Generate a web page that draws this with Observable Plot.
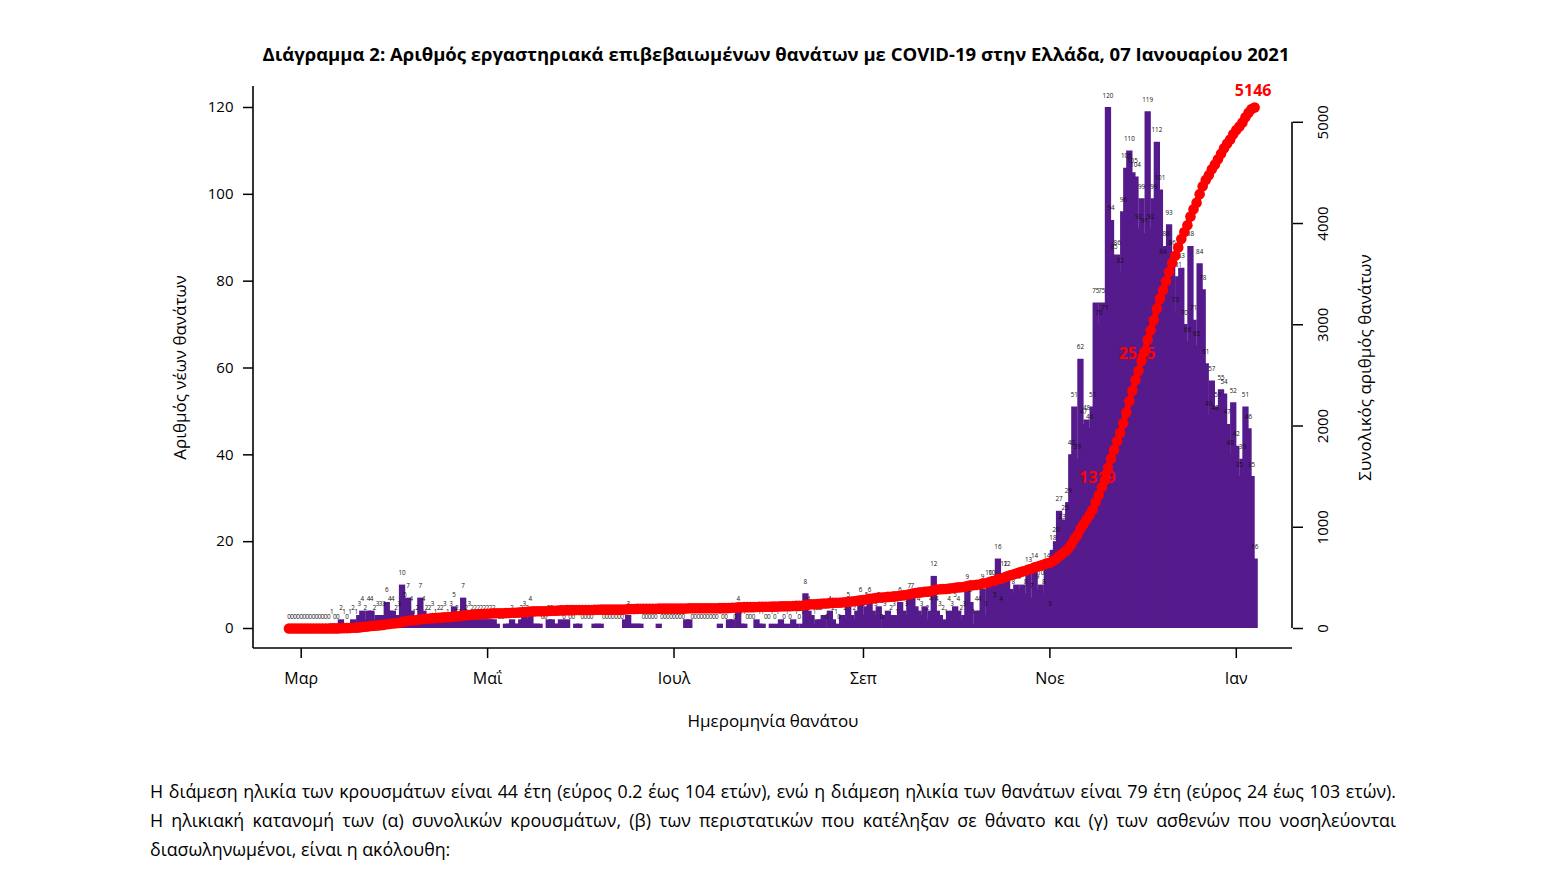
<!DOCTYPE html>
<html>
<head>
<meta charset="utf-8">
<script src="https://cdn.jsdelivr.net/npm/d3@7"></script>
<script src="https://cdn.jsdelivr.net/npm/@observablehq/plot@0.6"></script>
<style>
  html, body { margin: 0; padding: 0; background: #fff; }
  body { width: 1552px; height: 886px; position: relative; overflow: hidden; font-family: "Open Sans", sans-serif; color: #000; }
  #title { position: absolute; top: 41px; left: 0; width: 1552px; text-align: center; font-weight: 700; font-size: 18.5px; line-height: 26px; }
  #chart { position: absolute; top: 70px; left: 0; }
  .para { position: absolute; left: 150px; width: 1246px; font-size: 17.8px; line-height: 22px; white-space: nowrap; }
  .just { text-align: justify; text-align-last: justify; white-space: normal; }
</style>
</head>
<body>
<div id="title"></div>
<div id="chart"></div>
<div class="para just" id="l1" style="top:780px"></div>
<div class="para just" id="l2" style="top:809px"></div>
<div class="para" id="l3" style="top:838px"></div>
<script>
// ---------------- data ----------------
const titleText = "Διάγραμμα 2: Αριθμός εργαστηριακά επιβεβαιωμένων θανάτων με COVID-19 στην Ελλάδα, 07 Ιανουαρίου 2021";
const yLabelLeft = "Αριθμός νέων θανάτων";
const yLabelRight = "Συνολικός αριθμός θανάτων";
const xLabel = "Ημερομηνία θανάτου";
const captionLines = [
  "Η διάμεση ηλικία των κρουσμάτων είναι 44 έτη (εύρος 0.2 έως 104 ετών), ενώ η διάμεση ηλικία των θανάτων είναι 79 έτη (εύρος 24 έως 103 ετών).",
  "Η ηλικιακή κατανομή των (α) συνολικών κρουσμάτων, (β) των περιστατικών που κατέληξαν σε θάνατο και (γ) των ασθενών που νοσηλεύονται",
  "διασωληνωμένοι, είναι η ακόλουθη:"
];

const firstDay = "2020-02-26";
// daily deaths by date of death, month by month
const feb2020 = [0,0,0,0];
const mar2020 = [0,0,0,0,0,0,0,0,0,0,1,0,0,2,1,0,1,2,1,3,4,2,4,4,2,3,3,3,6,4,4];
const apr2020 = [2,3,10,5,7,4,1,2,7,4,2,2,3,1,2,2,3,1,3,5,2,1,7,2,3,2,2,2,2,2];
const may2020 = [2,2,2,1,0,0,1,1,2,1,1,2,3,2,4,1,1,1,0,0,2,2,1,1,2,0,2,0,0,1,1];
const jun2020 = [0,0,0,0,1,1,1,0,0,0,0,0,0,0,2,3,1,1,1,1,0,0,0,0,0,1,0,0,0,0];
const jul2020 = [0,0,0,0,2,2,0,0,0,0,0,0,0,0,0,1,0,0,2,2,0,4,1,1,0,0,0,2,1,1,0];
const aug2020 = [0,1,0,1,2,0,1,0,2,1,0,1,8,4,3,1,2,2,3,0,4,2,1,0,3,2,5,3,2,4,6];
const sep2020 = [3,5,6,4,3,5,0,3,4,2,3,1,6,4,3,7,7,5,4,3,5,2,4,12,4,3,2,1,4,3];
const oct2020 = [5,4,2,3,9,6,1,4,4,9,3,10,10,5,16,4,12,12,9,8,10,9,10,8,13,7,14,9,10,8,14];
const nov2020 = [3,18,20,27,23,25,29,40,51,39,62,47,48,46,51,75,70,75,71,120,94,85,86,82,96,106,110,105,104,92];
const dec2020 = [99,91,119,92,99,112,101,84,88,93,86,73,81,83,70,66,88,71,65,84,78,61,49,57,48,51,55,54,47,40,52];
const jan2021 = [42,35,39,51,46,35,16];

const cumLabelDates = ["2020-11-17", "2020-11-30", "2021-01-07"];

const leftTicks = [0, 20, 40, 60, 80, 100, 120];
const rightTicks = [0, 1000, 2000, 3000, 4000, 5000];
const monthTickDates = ["2020-03-01", "2020-05-01", "2020-07-01", "2020-09-01", "2020-11-01", "2021-01-01"];
const monthTickLabels = ["Μαρ", "Μαΐ", "Ιουλ", "Σεπ", "Νοε", "Ιαν"];

// ---------------- build ----------------
document.getElementById("title").textContent = titleText;
document.getElementById("l1").textContent = captionLines[0];
document.getElementById("l2").textContent = captionLines[1];
document.getElementById("l3").textContent = captionLines[2];

const daily = [].concat(feb2020, mar2020, apr2020, may2020, jun2020, jul2020, aug2020, sep2020, oct2020, nov2020, dec2020, jan2021);
const t0 = new Date(firstDay + "T00:00:00Z").getTime();
let run = 0;
const rows = daily.map((v, i) => { run += v; return { date: new Date(t0 + i * 864e5), v, cum: run }; });
const total = run;
const maxDaily = d3.max(daily);
const ratio = maxDaily / total;            // right axis -> left axis units
const labelKeys = new Set(cumLabelDates.map(s => new Date(s + "T00:00:00Z").getTime()));
const labeled = rows.filter(d => labelKeys.has(d.date.getTime()));
const tickDates = monthTickDates.map(s => new Date(s + "T00:00:00Z"));
const tickLabelOf = d => monthTickLabels[tickDates.findIndex(t => t.getTime() === +d)];
const rightTickPos = rightTicks.map(t => t * ratio);

const W = 1552, H = 680, ML = 253, MR = 260, MT = 16, MB = 102;
const font = "Open Sans";

const chart = Plot.plot({
  width: W, height: H,
  marginLeft: ML, marginRight: MR, marginTop: MT, marginBottom: MB,
  style: { fontFamily: font, fontSize: "15px", color: "#000", background: "transparent", overflow: "visible" },
  x: { type: "utc", domain: [tickDates[0], tickDates[tickDates.length - 1]], range: [300.7, 1235.8] },
  y: { domain: [0, maxDaily], range: [558, 37] },
  marks: [
    Plot.ruleX(rows, { x: "date", y1: 0, y2: "v", stroke: "#551A8B", strokeWidth: 6.3 }),
    Plot.text(rows, { x: "date", y: "v", text: d => String(d.v), dy: -12, fontSize: 6.3, fill: "#111", fontFamily: font }),
    Plot.text(labeled, { x: "date", y: d => d.cum * ratio, text: d => String(d.cum), dy: -17, dx: -1.5, fill: "#FF0000", fontWeight: "bold", fontSize: 16, fontFamily: font }),
    Plot.line(rows, { x: "date", y: d => d.cum * ratio, stroke: "#FF0000", strokeWidth: 6 }),
    Plot.dot(rows, { x: "date", y: d => d.cum * ratio, r: 5.3, fill: "#FF0000" }),
    Plot.axisY(leftTicks, { anchor: "left", tickSize: 10, tickPadding: 10, fontSize: 15, label: null, strokeWidth: 1.5 }),
    Plot.axisY(rightTickPos, { anchor: "right", tickSize: 10, text: null, label: null, strokeWidth: 1.5 }),
    Plot.text(rightTickPos, { y: d => d, frameAnchor: "right", dx: 31, rotate: -90, textAnchor: "middle", lineAnchor: "middle",
      text: d => String(Math.round(d / ratio)), fontSize: 15, fontFamily: font }),
    Plot.axisX(tickDates, { anchor: "bottom", tickSize: 10, tickPadding: 14, fontSize: 16, label: null, tickFormat: tickLabelOf, strokeWidth: 1.5 }),
    Plot.text([yLabelLeft], { frameAnchor: "left", textAnchor: "middle", rotate: -90, dx: -73, fontSize: 17, fontFamily: font }),
    Plot.text([yLabelRight], { frameAnchor: "right", textAnchor: "middle", rotate: -90, dx: 73, fontSize: 17, fontFamily: font }),
    Plot.text([xLabel], { frameAnchor: "bottom", textAnchor: "middle", dy: 78, fontSize: 17, fontFamily: font })
  ]
});
document.getElementById("chart").appendChild(chart);

// box lines (bty = "l") and right axis line
const svg = d3.select(chart);
const ys = chart.scale("y");
const g = svg.append("g").attr("stroke", "#000").attr("stroke-width", 1.6).attr("fill", "none");
g.append("line").attr("x1", ML).attr("x2", ML).attr("y1", MT).attr("y2", H - MB);
g.append("line").attr("x1", ML).attr("x2", W - MR).attr("y1", H - MB).attr("y2", H - MB);
g.append("line").attr("x1", W - MR).attr("x2", W - MR)
  .attr("y1", ys.apply(0)).attr("y2", ys.apply(rightTicks[rightTicks.length - 1] * ratio));
</script>
</body>
</html>
